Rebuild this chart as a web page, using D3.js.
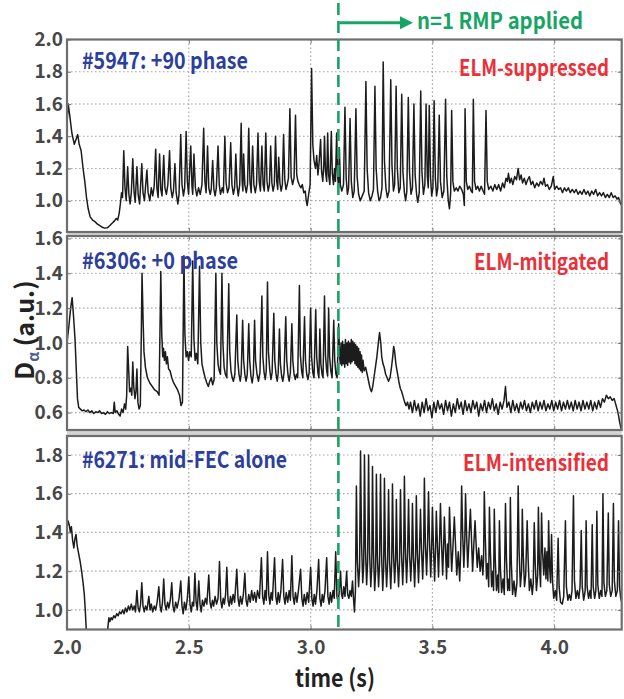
<!DOCTYPE html>
<html><head><meta charset="utf-8">
<script src="https://cdn.jsdelivr.net/npm/d3@7"></script>
<style>
body{margin:0;background:#fff;}
svg text{font-family:"Noto Sans CJK KR","Noto Sans",sans-serif;}
</style></head><body>
<svg id="chart" width="624" height="699"></svg>
<script>
// D-alpha traces, [time (s), signal (a.u.)]
const shot5947 = [
[2.000,1.48],[2.005,1.60],[2.012,1.52],[2.020,1.42],[2.030,1.35],[2.037,1.38],[2.044,1.41],[2.050,1.35],[2.058,1.31],[2.066,1.20],[2.073,1.12],[2.080,1.02],[2.087,0.95],[2.095,0.90],[2.105,0.88],[2.115,0.87],[2.125,0.855],[2.135,0.845],[2.145,0.835],[2.155,0.83],[2.165,0.832],[2.175,0.845],[2.185,0.86],[2.195,0.875],[2.202,0.89],[2.208,0.88],[2.214,0.92],[2.219,0.98],[2.224,1.05],[2.228,1.02],
[2.233,1.31],[2.238,1.08],[2.243,1.00],[2.249,1.21],[2.254,1.04],[2.259,0.98],[2.264,1.05],[2.270,1.26],[2.275,1.06],[2.280,0.99],[2.287,1.21],[2.292,1.04],[2.298,0.98],[2.307,1.23],[2.312,1.05],[2.318,1.00],[2.322,1.08],[2.328,1.19],[2.333,1.05],[2.340,1.00],[2.346,1.08],[2.352,1.03],[2.358,1.09],[2.364,1.32],[2.369,1.08],[2.374,1.02],[2.380,1.29],[2.385,1.07],[2.390,1.03],[2.397,1.28],[2.402,1.08],[2.408,1.04],[2.414,1.10],[2.421,1.31],[2.426,1.08],[2.432,1.02],[2.437,1.06],[2.443,1.23],[2.448,1.05],[2.455,0.98],[2.460,1.04],[2.467,1.41],[2.472,1.10],[2.478,1.03],[2.483,1.08],[2.489,1.43],[2.494,1.12],[2.499,1.04],[2.508,1.34],[2.513,1.09],[2.516,1.04],[2.521,1.29],[2.527,1.08],[2.533,1.03],[2.540,1.08],[2.547,1.04],[2.554,1.10],[2.561,1.45],[2.566,1.12],[2.571,1.05],[2.577,1.34],[2.582,1.08],[2.588,1.04],[2.592,1.07],[2.598,1.25],[2.603,1.07],[2.608,1.03],[2.613,1.08],[2.620,1.34],[2.625,1.10],[2.630,1.04],[2.637,1.08],[2.642,1.05],[2.648,1.40],[2.653,1.11],[2.659,1.05],[2.665,1.08],[2.672,1.36],[2.677,1.10],[2.683,1.04],[2.688,1.08],[2.693,1.29],[2.698,1.09],[2.703,1.03],[2.709,1.10],[2.715,1.48],[2.719,1.12],[2.722,1.06],[2.725,1.29],[2.730,1.10],[2.736,1.05],[2.741,1.10],[2.746,1.45],[2.751,1.12],[2.756,1.05],[2.762,1.34],[2.767,1.10],[2.773,1.05],[2.778,1.10],[2.784,1.42],[2.789,1.12],[2.794,1.06],[2.800,1.34],[2.805,1.10],[2.810,1.06],[2.816,1.42],[2.821,1.12],[2.826,1.06],[2.831,1.10],[2.836,1.34],[2.841,1.11],[2.846,1.06],[2.851,1.10],[2.856,1.40],[2.861,1.12],[2.865,1.07],[2.869,1.27],[2.874,1.11],[2.879,1.06],[2.884,1.10],[2.889,1.41],[2.894,1.13],[2.899,1.07],[2.904,1.10],[2.909,1.14],[2.915,1.57],[2.920,1.15],[2.926,1.10],[2.932,1.14],[2.938,1.53],[2.943,1.16],[2.948,1.12],[2.953,1.10],[2.960,1.08],[2.966,1.10],[2.972,1.05],[2.978,1.06],[2.982,1.00],[2.986,0.97],[2.992,1.04],[2.998,1.10],
[3.004,1.82],[3.009,1.35],[3.014,1.25],[3.020,1.20],[3.025,1.28],[3.030,1.16],[3.035,1.24],[3.041,1.38],[3.045,1.18],[3.050,1.12],[3.054,1.22],[3.057,1.40],[3.061,1.18],[3.066,1.12],[3.070,1.42],[3.074,1.16],[3.079,1.10],[3.085,1.43],[3.089,1.17],[3.094,1.10],[3.098,1.20],[3.102,1.12],[3.107,1.42],[3.111,1.15],[3.115,1.08],[3.118,1.33],[3.122,1.10],[3.128,1.06],[3.135,1.10],[3.141,1.58],[3.146,1.14],[3.151,1.04],[3.156,1.08],[3.162,1.51],[3.167,1.12],[3.173,1.02],[3.179,1.06],[3.186,1.57],[3.191,1.15],[3.197,1.04],[3.204,1.00],[3.212,1.03],[3.220,1.06],[3.227,1.74],[3.232,1.20],[3.238,1.05],[3.245,1.00],[3.252,1.03],[3.258,1.07],[3.264,1.71],[3.269,1.20],[3.275,1.06],[3.281,1.00],[3.287,1.02],[3.293,1.08],[3.298,1.86],[3.303,1.25],[3.309,1.08],[3.315,1.02],[3.322,1.06],[3.329,1.75],[3.334,1.22],[3.340,1.06],[3.345,1.10],[3.351,1.71],[3.356,1.20],[3.362,1.05],[3.368,1.08],[3.374,1.66],[3.379,1.18],[3.385,1.05],[3.390,1.00],[3.395,1.06],[3.401,1.64],[3.406,1.18],[3.412,1.04],[3.418,1.08],[3.424,1.60],[3.429,1.16],[3.435,1.04],[3.440,0.99],[3.446,1.05],[3.452,1.68],[3.457,1.18],[3.463,1.04],[3.469,1.10],[3.474,1.60],[3.479,1.15],[3.483,1.08],[3.487,1.59],[3.492,1.15],[3.497,1.03],[3.502,1.08],[3.507,1.62],[3.512,1.14],[3.517,1.03],[3.522,1.08],[3.528,1.53],[3.533,1.12],[3.540,1.02],[3.547,1.06],[3.554,1.63],[3.559,1.15],[3.565,1.00],[3.570,0.95],[3.575,1.05],[3.579,1.56],[3.584,1.12],[3.590,1.06],[3.598,1.08],[3.605,1.06],[3.612,1.09],[3.620,1.07],[3.627,1.04],[3.631,0.97],[3.634,1.57],[3.639,1.12],[3.645,1.07],[3.652,1.09],[3.659,1.06],[3.664,1.05],[3.668,1.63],[3.673,1.12],[3.679,1.07],[3.686,1.09],[3.693,1.06],[3.700,1.09],[3.708,1.06],[3.714,1.04],[3.720,1.56],[3.725,1.12],[3.731,1.07],[3.740,1.09],[3.748,1.06],[3.756,1.10],[3.764,1.07],[3.772,1.10],[3.780,1.06],[3.788,1.11],[3.795,1.08],[3.802,1.14],[3.808,1.12],[3.812,1.17],[3.818,1.11],[3.824,1.14],[3.830,1.10],[3.838,1.15],[3.845,1.13],[3.852,1.20],[3.858,1.13],[3.864,1.16],[3.870,1.11],[3.877,1.14],[3.884,1.10],[3.891,1.13],[3.898,1.15],[3.905,1.10],[3.912,1.12],[3.920,1.08],[3.928,1.11],[3.936,1.09],[3.944,1.12],[3.952,1.10],[3.958,1.14],[3.964,1.09],[3.972,1.10],[3.980,1.07],[3.988,1.09],[3.996,1.15],[4.002,1.07],[4.010,1.09],[4.018,1.07],[4.026,1.08],[4.034,1.05],[4.042,1.08],[4.050,1.06],[4.058,1.08],[4.066,1.05],[4.074,1.07],[4.082,1.05],[4.090,1.07],[4.098,1.04],[4.106,1.06],[4.114,1.04],[4.122,1.07],[4.130,1.04],[4.138,1.06],[4.146,1.03],[4.154,1.06],[4.162,1.04],[4.170,1.07],[4.178,1.03],[4.186,1.05],[4.194,1.03],[4.202,1.05],[4.210,1.02],[4.218,1.04],[4.226,1.02],[4.234,1.05],[4.242,1.02],[4.250,1.03],[4.258,1.01],[4.264,1.02],[4.270,0.99],[4.277,0.97]
];

const shot6306 = [
[2.000,1.00],[2.008,1.10],[2.015,1.20],[2.021,1.26],[2.027,1.15],[2.033,1.02],[2.038,0.85],[2.043,0.68],[2.048,0.63],[2.055,0.62],[2.062,0.61],[2.070,0.615],[2.078,0.605],[2.086,0.615],[2.094,0.60],[2.102,0.61],[2.110,0.595],[2.118,0.605],[2.126,0.60],[2.134,0.61],[2.142,0.595],[2.150,0.60],[2.158,0.59],[2.166,0.605],[2.174,0.595],[2.182,0.60],[2.190,0.595],[2.194,0.66],[2.198,0.60],[2.205,0.61],[2.212,0.59],[2.218,0.58],[2.224,0.62],[2.230,0.60],[2.236,0.65],[2.241,0.62],[2.245,0.70],[2.249,0.98],[2.253,0.85],[2.257,0.72],[2.262,0.74],[2.266,0.70],[2.270,0.89],[2.274,0.75],[2.279,0.68],[2.283,0.72],[2.287,0.85],[2.291,0.66],[2.296,0.62],[2.301,0.64],[2.305,1.05],
[2.308,1.40],[2.312,1.15],[2.316,0.95],[2.322,0.86],[2.330,0.80],[2.340,0.77],[2.350,0.75],[2.360,0.73],[2.370,0.72],[2.378,0.70],
[2.385,1.41],[2.389,1.05],[2.393,0.92],[2.396,0.97],[2.400,0.90],[2.404,0.95],[2.408,0.88],[2.412,0.92],[2.417,0.85],[2.423,0.84],[2.430,0.80],[2.438,0.77],[2.446,0.75],[2.454,0.73],[2.462,0.70],[2.468,0.64],[2.474,0.66],
[2.480,1.50],[2.484,1.05],[2.489,0.92],[2.494,0.95],[2.499,0.90],[2.504,0.95],[2.510,0.92],[2.516,1.47],[2.521,1.02],[2.526,0.90],[2.531,0.94],[2.537,0.88],[2.544,1.44],[2.549,1.00],[2.554,0.88],[2.560,0.84],[2.567,0.80],[2.574,0.77],[2.580,0.75],[2.586,0.78],[2.592,0.80],[2.598,0.76],[2.604,0.79],
[2.611,1.40],[2.615,1.00],[2.620,0.88],[2.625,0.84],[2.630,0.82],[2.636,1.40],[2.640,1.00],[2.645,0.86],[2.650,0.82],[2.656,0.80],[2.664,1.34],[2.668,0.95],[2.673,0.84],[2.678,0.80],[2.683,0.78],[2.689,0.82],[2.697,1.16],[2.701,0.90],[2.706,0.82],[2.711,0.78],[2.715,0.82],[2.721,1.13],[2.725,0.90],[2.730,0.82],[2.735,0.78],[2.740,0.82],[2.746,1.11],[2.750,0.90],[2.755,0.81],[2.760,0.77],[2.765,0.82],[2.770,1.13],[2.774,0.90],[2.780,0.82],[2.786,0.78],[2.792,0.83],[2.800,1.27],[2.804,0.92],[2.809,0.83],[2.814,0.79],[2.818,0.84],[2.823,1.35],[2.827,0.95],[2.832,0.85],[2.837,0.79],[2.842,0.83],[2.849,1.17],[2.853,0.90],[2.858,0.82],[2.863,0.78],[2.867,0.83],[2.872,1.08],[2.876,0.88],[2.881,0.81],[2.886,0.78],[2.891,0.83],[2.898,1.15],[2.902,0.90],[2.907,0.82],[2.912,0.78],[2.917,0.83],[2.923,1.11],[2.927,0.90],[2.932,0.82],[2.937,0.79],[2.942,0.82],[2.947,0.80],[2.954,1.33],[2.958,0.93],[2.963,0.84],[2.968,0.80],[2.975,1.15],[2.979,0.90],[2.984,0.82],[2.989,0.79],[2.994,0.83],[3.000,1.20],[3.004,0.92],[3.009,0.83],[3.014,0.80],[3.021,1.19],[3.025,0.92],[3.030,0.83],[3.034,0.80],[3.038,1.08],[3.042,0.88],[3.047,0.82],[3.051,0.80],[3.057,1.27],[3.061,0.93],[3.066,0.84],[3.070,0.81],[3.074,1.20],[3.078,0.92],[3.083,0.84],[3.088,0.80],[3.095,1.13],[3.099,0.90],[3.104,0.82],[3.109,0.80],[3.115,1.11],[3.119,0.92],
[3.122,0.88],[3.125,1.00],[3.128,0.87],[3.131,1.01],[3.134,0.88],[3.137,0.99],[3.140,0.86],[3.143,1.02],[3.146,0.88],[3.149,1.00],[3.152,0.87],[3.155,1.01],[3.158,0.89],[3.161,1.00],[3.164,0.88],[3.167,1.02],[3.170,0.89],[3.173,1.01],[3.176,0.90],[3.179,1.00],[3.182,0.88],[3.185,0.99],[3.188,0.87],[3.191,0.98],[3.194,0.86],[3.197,0.97],[3.200,0.85],[3.203,0.95],[3.206,0.84],[3.209,0.93],[3.212,0.83],[3.215,0.90],[3.220,0.84],[3.226,0.86],[3.232,0.82],[3.238,0.78],[3.244,0.74],[3.250,0.72],[3.255,0.75],[3.260,0.80],[3.266,0.86],[3.272,0.92],[3.278,1.00],[3.283,1.06],[3.288,1.00],[3.292,0.92],[3.297,0.88],[3.302,0.86],[3.308,0.82],[3.314,0.80],[3.320,0.78],[3.326,0.80],[3.332,0.86],[3.337,0.92],[3.341,0.98],[3.345,0.95],[3.350,0.88],[3.356,0.83],[3.362,0.78],[3.368,0.74],[3.374,0.72],[3.380,0.69],[3.386,0.66],[3.392,0.64],[3.398,0.66],[3.404,0.62],
[3.410,0.66],[3.418,0.60],[3.426,0.67],[3.434,0.61],[3.442,0.65],[3.450,0.58],[3.458,0.66],[3.466,0.60],[3.474,0.68],[3.482,0.61],[3.490,0.64],[3.498,0.57],[3.506,0.66],[3.514,0.60],[3.522,0.67],[3.530,0.62],[3.538,0.65],[3.546,0.59],[3.554,0.67],[3.562,0.61],[3.570,0.66],[3.578,0.58],[3.586,0.65],[3.594,0.60],[3.602,0.68],[3.610,0.62],[3.618,0.66],[3.626,0.59],[3.634,0.67],[3.642,0.61],[3.650,0.65],[3.658,0.60],[3.666,0.67],[3.674,0.62],[3.682,0.66],[3.690,0.58],[3.698,0.65],[3.706,0.61],[3.714,0.67],[3.722,0.60],[3.730,0.66],[3.738,0.62],[3.746,0.68],[3.754,0.61],[3.762,0.65],[3.770,0.59],[3.778,0.66],[3.786,0.62],[3.794,0.67],[3.800,0.75],[3.806,0.63],[3.814,0.66],[3.822,0.60],[3.830,0.67],[3.838,0.61],[3.846,0.65],[3.854,0.60],[3.862,0.66],[3.870,0.62],[3.878,0.67],[3.886,0.61],[3.894,0.65],[3.902,0.60],[3.910,0.66],[3.918,0.62],[3.926,0.67],[3.934,0.61],[3.942,0.66],[3.950,0.62],[3.958,0.67],[3.966,0.61],[3.974,0.65],[3.982,0.62],[3.990,0.67],[3.998,0.61],[4.006,0.66],[4.014,0.62],[4.022,0.67],[4.030,0.61],[4.038,0.66],[4.046,0.62],[4.054,0.67],[4.062,0.62],[4.070,0.66],[4.078,0.61],[4.086,0.67],[4.094,0.62],[4.102,0.66],[4.110,0.61],[4.118,0.67],[4.126,0.62],[4.134,0.66],[4.142,0.62],[4.150,0.67],[4.158,0.61],[4.166,0.66],[4.174,0.62],[4.182,0.67],[4.190,0.63],[4.198,0.68],[4.206,0.66],[4.214,0.70],[4.222,0.68],[4.230,0.69],[4.238,0.67],[4.246,0.68],[4.254,0.64],[4.262,0.60],[4.268,0.55],[4.274,0.51],[4.278,0.48]
];

const shot6271 = [
[2.000,1.42],[2.004,1.46],[2.009,1.44],[2.014,1.40],[2.018,1.43],[2.023,1.36],[2.028,1.32],[2.033,1.37],[2.037,1.39],[2.042,1.33],[2.048,1.29],[2.054,1.25],[2.060,1.20],[2.066,1.14],[2.071,1.08],[2.075,1.00],[2.079,0.90],[2.083,0.85],[2.160,0.85],
[2.167,0.90],[2.172,0.96],[2.176,0.94],[2.181,0.96],[2.186,0.95],[2.192,0.97],[2.198,0.96],[2.204,0.98],[2.210,0.97],[2.216,0.99],[2.222,0.98],[2.228,1.00],[2.234,0.98],[2.240,1.01],[2.246,0.99],[2.252,1.02],[2.258,1.00],[2.264,1.03],[2.270,1.00],[2.276,1.02],[2.281,0.99],[2.287,1.10],[2.292,1.01],[2.297,0.99],[2.302,1.03],[2.307,1.14],[2.312,1.02],[2.317,0.99],[2.322,1.02],[2.328,1.00],[2.336,1.07],[2.341,1.00],[2.346,1.03],[2.352,0.99],[2.358,1.02],[2.364,1.00],[2.370,1.04],[2.377,1.12],[2.382,1.02],[2.387,0.99],[2.392,1.04],[2.397,1.16],[2.402,1.03],[2.407,1.00],[2.413,1.04],[2.418,1.01],[2.424,1.05],[2.430,1.14],[2.435,1.02],[2.440,0.99],[2.446,1.04],[2.452,1.01],[2.460,1.06],[2.467,1.15],[2.472,1.02],[2.477,0.98],[2.482,1.04],[2.488,1.00],[2.494,1.06],[2.500,1.17],[2.505,1.03],[2.510,0.99],[2.515,1.04],[2.520,1.02],[2.525,1.19],[2.530,1.04],[2.535,1.00],[2.541,1.15],[2.546,1.03],[2.551,0.99],[2.556,1.05],[2.562,1.02],[2.568,1.06],[2.574,1.03],[2.582,1.18],[2.587,1.04],[2.592,1.01],[2.597,1.05],[2.602,1.02],[2.608,1.07],[2.614,1.03],[2.620,1.06],[2.626,1.25],[2.631,1.05],[2.636,1.01],[2.641,1.06],[2.646,1.03],[2.651,1.08],[2.656,1.22],[2.661,1.05],[2.666,1.02],[2.671,1.07],[2.676,1.03],[2.682,1.08],[2.688,1.04],[2.697,1.21],[2.702,1.06],[2.707,1.02],[2.712,1.07],[2.718,1.03],[2.724,1.08],[2.730,1.19],[2.735,1.05],[2.740,1.02],[2.746,1.08],[2.752,1.04],[2.758,1.10],[2.764,1.05],[2.770,1.09],[2.776,1.04],[2.782,1.10],[2.790,1.06],[2.798,1.27],[2.803,1.07],[2.808,1.03],[2.813,1.10],[2.818,1.05],[2.823,1.30],[2.828,1.08],[2.833,1.03],[2.838,1.09],[2.843,1.05],[2.852,1.27],[2.857,1.07],[2.862,1.03],[2.867,1.09],[2.872,1.04],[2.878,1.10],[2.885,1.26],[2.890,1.07],[2.895,1.03],[2.900,1.09],[2.906,1.04],[2.912,1.10],[2.917,1.05],[2.923,1.28],[2.928,1.07],[2.933,1.03],[2.938,1.09],[2.944,1.04],[2.950,1.10],[2.959,1.21],[2.964,1.06],[2.969,1.02],[2.974,1.08],[2.980,1.03],[2.986,1.09],[2.992,1.04],[3.000,1.22],[3.005,1.06],[3.010,1.02],[3.015,1.08],[3.020,1.03],[3.026,1.10],[3.033,1.26],[3.038,1.06],[3.043,1.02],[3.048,1.08],[3.053,1.04],[3.059,1.10],[3.066,1.27],[3.071,1.07],[3.076,1.03],[3.081,1.09],[3.086,1.04],[3.092,1.10],[3.097,1.06],[3.103,1.30],[3.108,1.07],[3.113,1.04],[3.118,1.10],[3.123,1.20],[3.127,1.08],[3.131,1.06],[3.136,1.12],[3.141,1.07],[3.148,1.20],[3.152,1.08],[3.157,1.06],[3.162,1.10],[3.167,1.07],[3.172,1.15],[3.176,1.06],[3.180,0.99],[3.184,1.10],
[3.188,1.64],[3.192,1.25],[3.197,1.12],[3.201,1.22],[3.205,1.82],[3.209,1.35],[3.214,1.14],[3.218,1.24],[3.221,1.80],[3.225,1.32],[3.230,1.13],[3.234,1.25],[3.238,1.80],[3.242,1.30],[3.247,1.12],[3.251,1.22],[3.254,1.74],[3.258,1.30],[3.263,1.10],[3.267,1.20],[3.270,1.70],[3.274,1.28],[3.279,1.12],[3.283,1.24],[3.287,1.70],[3.291,1.30],[3.296,1.10],[3.300,1.22],[3.303,1.68],[3.307,1.28],[3.312,1.12],[3.316,1.24],[3.320,1.62],[3.324,1.26],[3.329,1.11],[3.333,1.25],[3.336,1.65],[3.340,1.30],[3.345,1.14],[3.349,1.26],[3.352,1.57],[3.356,1.26],[3.361,1.12],[3.365,1.25],[3.369,1.62],[3.373,1.30],[3.378,1.13],[3.382,1.27],[3.385,1.69],[3.389,1.32],[3.394,1.14],[3.398,1.28],[3.402,1.57],[3.406,1.30],[3.411,1.15],[3.415,1.27],[3.418,1.55],[3.422,1.28],[3.427,1.12],[3.431,1.28],[3.434,1.59],[3.438,1.30],[3.443,1.14],[3.447,1.30],[3.451,1.52],[3.455,1.32],[3.460,1.16],[3.464,1.32],[3.467,1.68],[3.471,1.35],[3.476,1.18],[3.480,1.33],[3.484,1.61],[3.488,1.36],[3.493,1.17],[3.497,1.33],[3.500,1.53],[3.504,1.34],[3.509,1.15],[3.513,1.32],[3.516,1.51],[3.520,1.35],[3.525,1.17],[3.529,1.34],[3.533,1.55],[3.537,1.36],[3.542,1.18],[3.546,1.33],[3.549,1.48],[3.553,1.34],[3.558,1.16],[3.562,1.34],[3.566,1.22],[3.570,1.53],[3.574,1.38],[3.579,1.20],[3.584,1.32],[3.590,1.48],[3.594,1.36],[3.600,1.18],[3.606,1.30],[3.612,1.15],[3.616,1.30],[3.620,1.64],[3.624,1.40],[3.629,1.22],[3.633,1.36],[3.636,1.60],[3.640,1.40],[3.645,1.22],[3.650,1.36],[3.656,1.52],[3.660,1.38],[3.665,1.20],[3.670,1.34],[3.675,1.46],[3.679,1.35],[3.684,1.22],[3.690,1.32],[3.696,1.20],[3.702,1.28],[3.707,1.18],[3.710,1.26],[3.713,1.61],[3.717,1.38],[3.722,1.16],[3.727,1.24],[3.731,1.12],[3.734,1.53],[3.738,1.30],[3.743,1.12],[3.748,1.20],[3.751,1.10],[3.754,1.52],[3.758,1.26],[3.763,1.10],[3.768,1.18],[3.772,1.09],[3.775,1.46],[3.779,1.22],[3.784,1.09],[3.790,1.16],[3.795,1.08],[3.800,1.55],[3.804,1.26],[3.809,1.10],[3.814,1.16],[3.817,1.10],[3.820,1.58],[3.824,1.24],[3.829,1.08],[3.835,1.15],[3.841,1.07],[3.847,1.14],[3.852,1.64],[3.856,1.30],[3.861,1.12],[3.866,1.20],[3.869,1.52],[3.873,1.28],[3.878,1.12],[3.883,1.18],[3.889,1.46],[3.893,1.26],[3.898,1.10],[3.904,1.16],[3.910,1.08],[3.914,1.14],[3.918,1.45],[3.922,1.24],[3.927,1.10],[3.932,1.18],[3.935,1.53],[3.939,1.24],[3.944,1.12],[3.948,1.50],[3.952,1.30],[3.957,1.18],[3.962,1.32],[3.966,1.16],[3.970,1.30],[3.974,1.15],[3.977,1.46],[3.981,1.22],[3.985,1.14],[3.989,1.39],[3.993,1.15],[3.998,1.06],[4.004,1.10],[4.010,1.05],[4.016,1.37],[4.020,1.12],[4.026,1.04],[4.033,1.03],[4.039,1.07],[4.046,1.46],[4.050,1.12],[4.056,1.05],[4.062,1.08],[4.068,1.05],[4.073,1.10],[4.079,1.59],[4.083,1.15],[4.089,1.06],[4.095,1.10],[4.101,1.06],[4.106,1.12],[4.111,1.41],[4.115,1.12],[4.121,1.05],[4.127,1.10],[4.131,1.46],[4.135,1.12],[4.141,1.06],[4.147,1.10],[4.151,1.06],[4.156,1.44],[4.160,1.12],[4.166,1.06],[4.171,1.10],[4.175,1.51],[4.179,1.13],[4.185,1.06],[4.191,1.10],[4.196,1.07],[4.200,1.60],[4.204,1.14],[4.210,1.07],[4.216,1.10],[4.222,1.50],[4.226,1.13],[4.232,1.07],[4.238,1.10],[4.243,1.55],[4.247,1.15],[4.253,1.07],[4.259,1.10],[4.264,1.46],[4.268,1.12],[4.273,1.06],[4.277,1.04]
];

const timeTicks = [2.0, 2.5, 3.0, 3.5, 4.0];
const yTicks5947 = [1.0, 1.2, 1.4, 1.6, 1.8, 2.0];
const yTicks6306 = [0.6, 0.8, 1.0, 1.2, 1.4, 1.6];
const yTicks6271 = [1.0, 1.2, 1.4, 1.6, 1.8];
const shotLabels = ["#5947: +90 phase", "#6306: +0 phase", "#6271: mid-FEC alone"];
const regimeLabels = ["ELM-suppressed", "ELM-mitigated", "ELM-intensified"];
const rmpTime = 3.114;
const rmpLabel = "n=1 RMP applied";
const xTitle = "time (s)";

// layout of the three stacked panels
const plotLeft = 67, plotRight = 621.7;
const panels = [
  {data: shot5947, ticks: yTicks5947, top: 39.5, bottom: 232, domain: [0.806, 2.0],
   shot: shotLabels[0], regime: regimeLabels[0], shotY: 69, shotW: 166, regY: 76, regW: 150},
  {data: shot6306, ticks: yTicks6306, top: 236, bottom: 430, domain: [0.5, 1.614],
   shot: shotLabels[1], regime: regimeLabels[1], shotY: 268.5, shotW: 156, regY: 270, regW: 135},
  {data: shot6271, ticks: yTicks6271, top: 436, bottom: 629.5, domain: [0.899, 1.898],
   shot: shotLabels[2], regime: regimeLabels[2], shotY: 467.5, shotW: 205, regY: 470.5, regW: 146}
];

const svg = d3.select("#chart");
const x = d3.scaleLinear().domain([2.0, 4.277]).range([plotLeft, plotRight]);
const fmt = d3.format(".1f");
const GREEN = "#17a565", BLUE = "#2c3e9e", RED = "#ea3038";

// light bands between stacked frames
svg.append("rect").attr("x", plotLeft).attr("y", 232).attr("width", plotRight - plotLeft).attr("height", 4).attr("fill", "#d4d4d4");
svg.append("rect").attr("x", plotLeft).attr("y", 430).attr("width", plotRight - plotLeft).attr("height", 6).attr("fill", "#d4d4d4");

panels.forEach((p, i) => {
  const y = d3.scaleLinear().domain(p.domain).range([p.bottom, p.top]);
  const g = svg.append("g");
  const h = p.bottom - p.top, w = plotRight - plotLeft;
  g.append("rect").attr("x", plotLeft).attr("y", p.top).attr("width", w).attr("height", h).attr("fill", "#fff");

  // dotted grid
  const grid = g.append("g").attr("stroke", "#a8a8a8").attr("stroke-width", 1.2).attr("stroke-dasharray", "1.6,2.4");
  grid.selectAll("line.v").data(timeTicks.filter(t => t > 2.0)).join("line")
    .attr("x1", d => x(d)).attr("x2", d => x(d)).attr("y1", p.top).attr("y2", p.bottom);
  grid.selectAll("line.h").data(p.ticks.filter(v => y(v) > p.top + 2)).join("line")
    .attr("x1", plotLeft).attr("x2", plotRight).attr("y1", d => y(d)).attr("y2", d => y(d));

  // trace
  const clipId = "clip" + i;
  svg.append("clipPath").attr("id", clipId).append("rect")
    .attr("x", plotLeft).attr("y", p.top).attr("width", w).attr("height", h);
  const line = d3.line().x(d => x(d[0])).y(d => y(d[1]));
  g.append("path").datum(p.data).attr("clip-path", `url(#${clipId})`)
    .attr("d", line).attr("fill", "none").attr("stroke", "#1c1c1c")
    .attr("stroke-width", 1.5).attr("stroke-linejoin", "round");

  // inward ticks on all four sides
  const left = g.append("g").attr("transform", `translate(${plotLeft},0)`)
    .call(d3.axisLeft(y).tickValues(p.ticks).tickSize(-4).tickPadding(4).tickFormat(fmt));
  const right = g.append("g").attr("transform", `translate(${plotRight},0)`)
    .call(d3.axisRight(y).tickValues(p.ticks).tickSize(-4).tickFormat(""));
  const top = g.append("g").attr("transform", `translate(0,${p.top})`)
    .call(d3.axisTop(x).tickValues(timeTicks).tickSize(-4).tickFormat(""));
  const bottom = g.append("g").attr("transform", `translate(0,${p.bottom})`)
    .call(d3.axisBottom(x).tickValues(timeTicks).tickSize(-4).tickPadding(11)
      .tickFormat(i === 2 ? fmt : ""));
  [left, right, top, bottom].forEach(a => {
    a.select(".domain").remove();
    a.selectAll(".tick line").attr("stroke", "#777").attr("stroke-width", 1);
    a.selectAll(".tick text").attr("fill", "#474747").attr("font-size", 19)
      .attr("font-weight", 600).attr("font-family", '"Noto Sans CJK KR","Noto Sans",sans-serif');
  });

  // frame
  g.append("rect").attr("x", plotLeft).attr("y", p.top).attr("width", w).attr("height", h)
    .attr("fill", "none").attr("stroke", "#6e6e6e").attr("stroke-width", 2.2);

  // panel annotations
  g.append("text").attr("x", 82).attr("y", p.shotY).text(p.shot)
    .attr("fill", BLUE).attr("font-size", 23).attr("font-weight", 700)
    .attr("textLength", p.shotW).attr("lengthAdjust", "spacingAndGlyphs");
  g.append("text").attr("x", 609).attr("y", p.regY).attr("text-anchor", "end").text(p.regime)
    .attr("fill", RED).attr("font-size", 22).attr("font-weight", 700)
    .attr("textLength", p.regW).attr("lengthAdjust", "spacingAndGlyphs");
});

// RMP onset marker
svg.append("line").attr("x1", x(rmpTime)).attr("x2", x(rmpTime)).attr("y1", 3).attr("y2", 629.5)
  .attr("stroke", GREEN).attr("stroke-width", 2.6).attr("stroke-dasharray", "12,6");
svg.append("line").attr("x1", x(rmpTime) + 1).attr("x2", 402).attr("y1", 22.7).attr("y2", 22.7)
  .attr("stroke", GREEN).attr("stroke-width", 3);
svg.append("path").attr("d", "M400,16.2 L413,22.7 L400,29.2 Z").attr("fill", GREEN);
svg.append("text").attr("x", 417).attr("y", 29).text(rmpLabel)
  .attr("fill", GREEN).attr("font-size", 22).attr("font-weight", 700)
  .attr("textLength", 166).attr("lengthAdjust", "spacingAndGlyphs");

// axis titles
svg.append("text").attr("x", 335).attr("y", 687).attr("text-anchor", "middle").text(xTitle)
  .attr("fill", "#222").attr("font-size", 24).attr("font-weight", 700)
  .attr("textLength", 80).attr("lengthAdjust", "spacingAndGlyphs");
const yTitle = svg.append("text").attr("transform", "translate(34,330) rotate(-90)")
  .attr("text-anchor", "middle").attr("fill", "#222").attr("font-size", 25).attr("font-weight", 700);
yTitle.append("tspan").text("D");
yTitle.append("tspan").attr("font-size", 15).attr("dy", 5).attr("fill", "#4a5f9a").text("α");
yTitle.append("tspan").attr("dy", -5).text(" (a.u.)");
</script>
</body></html>
